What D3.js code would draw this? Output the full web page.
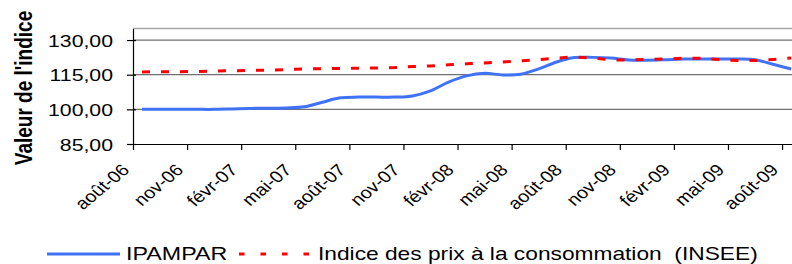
<!DOCTYPE html>
<html>
<head>
<meta charset="utf-8">
<script src="https://cdn.jsdelivr.net/npm/d3@7"></script>
<style>
  html, body { margin: 0; padding: 0; background: #fff; }
  svg { display: block; font-family: "Liberation Sans", Arial, sans-serif; }
  text { white-space: pre; }
</style>
</head>
<body>
<svg id="chart" width="792" height="264"></svg>
<script>
// ---- data ----
const months = ["août-06","sept-06","oct-06","nov-06","déc-06","janv-07","févr-07","mars-07","avr-07",
  "mai-07","juin-07","juil-07","août-07","sept-07","oct-07","nov-07","déc-07","janv-08","févr-08",
  "mars-08","avr-08","mai-08","juin-08","juil-08","août-08","sept-08","oct-08","nov-08","déc-08",
  "janv-09","févr-09","mars-09","avr-09","mai-09","juin-09","juil-09","août-09"];
const ipampar = [100.0,100.0,100.0,100.0,100.0,100.2,100.4,100.5,100.6,101.1,103.1,105.0,105.3,105.3,
  105.3,105.8,108.0,111.8,114.5,115.6,114.9,115.2,117.5,120.5,122.4,122.5,122.2,121.4,121.3,121.5,
  121.8,121.8,121.8,121.8,121.5,119.5,117.5];
const cpiInsee = [116.2,116.3,116.3,116.4,116.6,116.7,116.9,117.0,117.2,117.5,117.6,117.7,117.8,117.9,
  118.1,118.5,118.8,119.3,119.7,120.1,120.5,121.0,121.5,122.2,122.7,122.2,121.4,121.4,121.6,121.8,
  122.1,122.1,121.6,121.1,121.1,121.6,122.2];
const yTicks = [85, 100, 115, 130];
const tickEvery = 3;
const seriesNames = ["IPAMPAR", "Indice des prix à la consommation  (INSEE)"];
const yTitle = "Valeur de l'indice";

// ---- layout ----
const plotLeft = 133, plotTop = 28.5, plotBottom = 144, monthW = 18.03;
const plotRight = plotLeft + months.length * monthW;

const svg = d3.select("#chart");
const x = d3.scaleLinear().domain([0, months.length]).range([plotLeft, plotRight]);
const y = d3.scaleLinear().domain([85, 135]).range([plotBottom, plotTop]);

// gridlines
svg.append("g").selectAll("line").data(yTicks.filter(v => v > 85)).join("line")
  .attr("x1", plotLeft).attr("x2", plotRight)
  .attr("y1", d => y(d)).attr("y2", d => y(d))
  .attr("stroke", "#6f6f6f").attr("stroke-width", 1.3);
svg.append("line").attr("x1", plotLeft).attr("x2", plotRight)
  .attr("y1", y(135)).attr("y2", y(135)).attr("stroke", "#a8a8a8").attr("stroke-width", 1.3);

// y axis
const yAxis = svg.append("g").attr("transform", `translate(${plotLeft},0)`)
  .call(d3.axisLeft(y).tickValues(yTicks).tickSize(6).tickSizeOuter(0)
    .tickFormat(d => d3.format(".2f")(d).replace(".", ",")));
yAxis.select(".domain").attr("stroke", "#000").attr("stroke-width", 1.2);
yAxis.selectAll(".tick line").attr("stroke", "#000").attr("stroke-width", 1.2).attr("x2", 3).attr("x1", -6);
yAxis.selectAll(".tick text").attr("font-size", 17).attr("fill", "#000")
  .attr("x", -20 / 1.25).attr("dy", "0.36em").attr("transform", "scale(1.25,1)")
  .attr("font-family", "Liberation Sans, Arial, sans-serif");

// x axis
const xTickIdx = d3.range(0, months.length, tickEvery);
const xAxis = svg.append("g").attr("transform", `translate(0,${plotBottom})`)
  .call(d3.axisBottom(x).tickValues(xTickIdx).tickSize(6).tickSizeOuter(0)
    .tickFormat(i => months[i]));
xAxis.select(".domain").attr("stroke", "#000").attr("stroke-width", 1.2);
xAxis.selectAll(".tick line").attr("stroke", "#000").attr("stroke-width", 1.2);
xAxis.selectAll(".tick text").attr("font-size", 16.5).attr("fill", "#000")
  .attr("font-family", "Liberation Sans, Arial, sans-serif")
  .attr("text-anchor", "end").attr("x", 0).attr("y", 0).attr("dy", 0)
  .attr("transform", "translate(-3,27) scale(1.2,1) rotate(-45)");

// y title
svg.append("text").text(yTitle)
  .attr("transform", "translate(32,88) scale(1.25,1) rotate(-90)")
  .attr("text-anchor", "middle").attr("font-weight", "bold").attr("font-size", 19).attr("fill", "#000");

// lines
const px = (d, i) => x(i + 0.5);
svg.append("path").datum(ipampar)
  .attr("d", d3.line().x(px).y(d => y(d)).curve(d3.curveCatmullRom.alpha(0.5)))
  .attr("fill", "none").attr("stroke", "#3f72f4").attr("stroke-width", 3);
svg.append("path").datum(cpiInsee)
  .attr("d", d3.line().x(px).y(d => y(d)))
  .attr("fill", "none").attr("stroke", "#ff0000").attr("stroke-width", 3)
  .attr("stroke-dasharray", "8,11");

// legend
const leg = svg.append("g");
leg.append("line").attr("x1", 47).attr("x2", 120).attr("y1", 254).attr("y2", 254)
  .attr("stroke", "#3f72f4").attr("stroke-width", 3);
leg.append("text").text(seriesNames[0]).attr("transform", "translate(126,260) scale(1.33,1)")
  .attr("font-size", 17.5).attr("fill", "#000");
leg.append("line").attr("x1", 239).attr("x2", 310).attr("y1", 254).attr("y2", 254)
  .attr("stroke", "#ff0000").attr("stroke-width", 3).attr("stroke-dasharray", "5.5,16");
leg.append("text").text(seriesNames[1]).attr("transform", "translate(318,260) scale(1.3,1)")
  .attr("font-size", 17.5).attr("fill", "#000");
</script>
</body>
</html>
